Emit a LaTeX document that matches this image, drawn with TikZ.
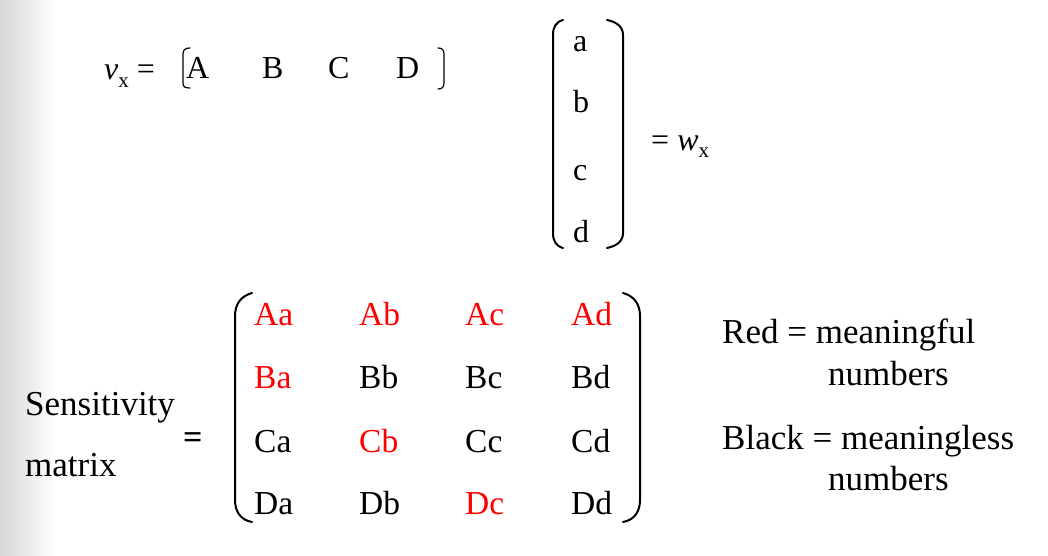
\documentclass[tikz,border=0pt]{standalone}
\usepackage{fontspec}
\setmainfont{Liberation Serif}
\begin{document}
\begin{tikzpicture}[x=1pt,y=-1pt,
  txt/.style={inner sep=0pt, font=\fontsize{35}{40}\selectfont, anchor=base west},
  vec/.style={inner sep=0pt, font=\fontsize{32}{36}\selectfont, anchor=base west},
  ent/.style={inner sep=0pt, font=\fontsize{33.5}{40}\selectfont, anchor=base west},
  redent/.style={ent, text=red},
  delim/.style={line width=2pt, line cap=round},
  brk/.style={line width=1.2pt, line cap=round}]
\useasboundingbox (0,0) rectangle (1048,556);
\shade[left color=black!16, right color=white] (0,0) rectangle (55,556);
% v_x row vector
\node[vec] (vx) at (104,80) {\textit{v}\raisebox{-0.25em}{\fontsize{21}{24}\selectfont x} =};
\node[vec] (vA) at (186,79) {A};
\node[vec] (vB) at (262,79) {B};
\node[vec] (vC) at (328,79) {C};
\node[vec] (vD) at (396,79) {D};
\draw[brk] (190,48) .. controls (185,48) and (183,50) .. (183,54) -- (183,83) .. controls (183,87) and (185,88) .. (190,88);
\draw[brk] (438,48) .. controls (442,48) and (444,50) .. (444,54) -- (444,83) .. controls (444,87) and (442,89) .. (438,89);
% column vector
\node[vec] (wa) at (573,52) {a};
\node[vec] (wb) at (573,113) {b};
\node[vec] (wc) at (573,180) {c};
\node[vec] (wd) at (573,242) {d};
\draw[delim] (563,20) .. controls (556,22) and (553,27) .. (553,35) -- (553,233) .. controls (553,241) and (556,246) .. (563,248);
\draw[delim] (607,20) .. controls (617,22) and (623,27) .. (623,35) -- (623,233) .. controls (623,241) and (617,246) .. (607,248);
\node[vec] (wx) at (651,150) {= \textit{w}\raisebox{-0.25em}{\fontsize{21}{24}\selectfont x}};
% sensitivity matrix
\node[txt] (s1) at (25,415) {Sensitivity};
\node[txt] (s2) at (25,476) {matrix};
\node[txt, font=\fontsize{34}{40}\selectfont\bfseries] (eq) at (183,448) {=};
\draw[delim] (252,293) .. controls (241,296) and (235,304) .. (235,316) -- (235,500) .. controls (235,512) and (241,520) .. (252,522);
\draw[delim] (623,293) .. controls (634,296) and (640,304) .. (640,316) -- (640,500) .. controls (640,512) and (634,520) .. (623,522);
\node[redent] (Aa) at (254,325) {Aa};
\node[redent] (Ab) at (359,325) {Ab};
\node[redent] (Ac) at (465,325) {Ac};
\node[redent] (Ad) at (571,325) {Ad};
\node[redent] (Ba) at (254,388) {Ba};
\node[ent] (Bb) at (359,388) {Bb};
\node[ent] (Bc) at (465,388) {Bc};
\node[ent] (Bd) at (571,388) {Bd};
\node[ent] (Ca) at (254,452) {Ca};
\node[redent] (Cb) at (359,452) {Cb};
\node[ent] (Cc) at (465,452) {Cc};
\node[ent] (Cd) at (571,452) {Cd};
\node[ent] (Da) at (254,514) {Da};
\node[ent] (Db) at (359,514) {Db};
\node[redent] (Dc) at (465,514) {Dc};
\node[ent] (Dd) at (571,514) {Dd};
% legend
\node[txt] (r1) at (722,343) {Red = meaningful};
\node[txt] (r2) at (828,385) {numbers};
\node[txt] (b1) at (722,449) {Black = meaningless};
\node[txt] (b2) at (828,490) {numbers};
\end{tikzpicture}
\end{document}
